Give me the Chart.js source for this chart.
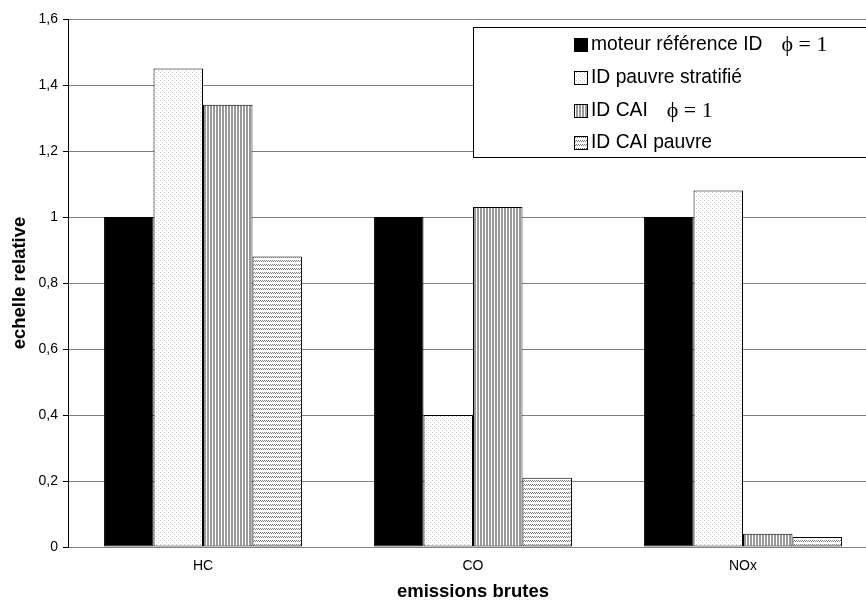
<!DOCTYPE html>
<html>
<head>
<meta charset="utf-8">
<script src="https://cdn.jsdelivr.net/npm/chart.js@4/dist/chart.umd.min.js"></script>
<style>
  html, body { margin: 0; padding: 0; background: #fff; overflow: hidden; }
  #wrap { width: 880px; height: 603px; }
</style>
</head>
<body>
<div id="wrap"><canvas id="chart" width="880" height="603"></canvas></div>
<script>
const categories = ["HC", "CO", "NOx"];
const moteurRef = [1, 1, 1];
const idPauvre = [1.45, 0.40, 1.08];
const idCai = [1.34, 1.03, 0.04];
const idCaiPauvre = [0.88, 0.21, 0.03];

const seriesLabels = ["moteur référence ID", "ID pauvre stratifié", "ID CAI", "ID CAI pauvre"];
const seriesSuffix = ["ϕ = 1", "", "ϕ = 1", ""];
const yTicks = [0, 0.2, 0.4, 0.6, 0.8, 1, 1.2, 1.4, 1.6];

const SANS = "'Liberation Sans', Arial, sans-serif";
const SERIF = "'Liberation Serif', 'Times New Roman', serif";

function makePattern(size, draw) {
  const c = document.createElement("canvas");
  c.width = size; c.height = size;
  const g = c.getContext("2d");
  g.fillStyle = "#fff";
  g.fillRect(0, 0, size, size);
  draw(g);
  return c.getContext("2d").createPattern(c, "repeat");
}

// light dots
const dotPattern = makePattern(4, (g) => {
  g.fillStyle = "#c4c4c4";
  g.fillRect(0, 0, 1, 1);
  g.fillRect(2, 2, 1, 1);
});
// vertical stripes
const stripePattern = makePattern(3, (g) => {
  g.fillStyle = "#999";
  g.fillRect(0, 0, 2, 3);
});
// small checker rows
const checkPattern = makePattern(4, (g) => {
  g.fillStyle = "#808080";
  g.fillRect(0, 0, 1, 1);
  g.fillRect(2, 0, 1, 1);
  g.fillRect(1, 1, 1, 1);
  g.fillRect(3, 1, 1, 1);
});

const fills = ["#000", dotPattern, stripePattern, checkPattern];
const seriesData = [moteurRef, idPauvre, idCai, idCaiPauvre];

const datasets = seriesData.map((d, i) => ({
  label: seriesLabels[i],
  data: d,
  backgroundColor: fills[i],
  borderColor: "#000",
  borderWidth: 1,
  borderSkipped: false,
}));

const legendBox = {
  id: "legendBox",
  afterDraw(chart) {
    const ctx = chart.ctx;
    ctx.save();
    ctx.fillStyle = "#fff";
    ctx.fillRect(473.5, 27.5, 420, 130);
    ctx.strokeStyle = "#000";
    ctx.lineWidth = 1;
    ctx.strokeRect(473.5, 27.5, 420, 130);
    const rows = [45, 78, 111, 143];
    ctx.textBaseline = "middle";
    seriesLabels.forEach((lab, i) => {
      const y = rows[i];
      ctx.fillStyle = fills[i];
      ctx.fillRect(574, y - 7, 13, 13);
      ctx.strokeStyle = "#000";
      ctx.strokeRect(574.5, y - 6.5, 13, 13);
      ctx.fillStyle = "#000";
      ctx.font = "19.3px " + SANS;
      ctx.textAlign = "left";
      ctx.fillText(lab, 591, y);
      if (seriesSuffix[i]) {
        const w = ctx.measureText(lab).width;
        ctx.font = "22px " + SERIF;
        ctx.fillText(seriesSuffix[i], 591 + w + 19, y);
      }
    });
    ctx.restore();
  },
};

new Chart(document.getElementById("chart"), {
  type: "bar",
  data: { labels: categories, datasets },
  plugins: [legendBox],
  options: {
    responsive: false,
    animation: false,
    devicePixelRatio: 1,
    layout: { padding: { top: 19, right: 2, left: 0, bottom: 0 } },
    plugins: { legend: { display: false }, tooltip: { enabled: false } },
    datasets: { bar: { categoryPercentage: 0.733, barPercentage: 1 } },
    scales: {
      x: {
        grid: { display: false },
        border: { display: false },
        ticks: { color: "#000", font: { family: SANS, size: 14 }, padding: 3 },
        title: {
          display: true,
          text: "emissions brutes",
          color: "#000",
          font: { family: SANS, size: 18.5, weight: "bold" },
          padding: { top: 0, bottom: 0 },
        },
        afterFit: (s) => { s.height = 56; },
      },
      y: {
        min: 0,
        max: 1.6,
        afterBuildTicks: (s) => { s.ticks = yTicks.map((v) => ({ value: v })); },
        grid: { color: "#808080", tickColor: "#000", tickLength: 5, lineWidth: 1 },
        border: { color: "#000", width: 1 },
        ticks: {
          color: "#000",
          font: { family: SANS, size: 14 },
          padding: 5,
          callback: (v) => String(Math.round(v * 10) / 10).replace(".", ","),
        },
        title: {
          display: true,
          text: "echelle relative",
          color: "#000",
          font: { family: SANS, size: 18.5, weight: "bold" },
          padding: { top: 9, bottom: 0 },
        },
        afterFit: (s) => { s.width = 68; },
      },
    },
  },
});
</script>
</body>
</html>
